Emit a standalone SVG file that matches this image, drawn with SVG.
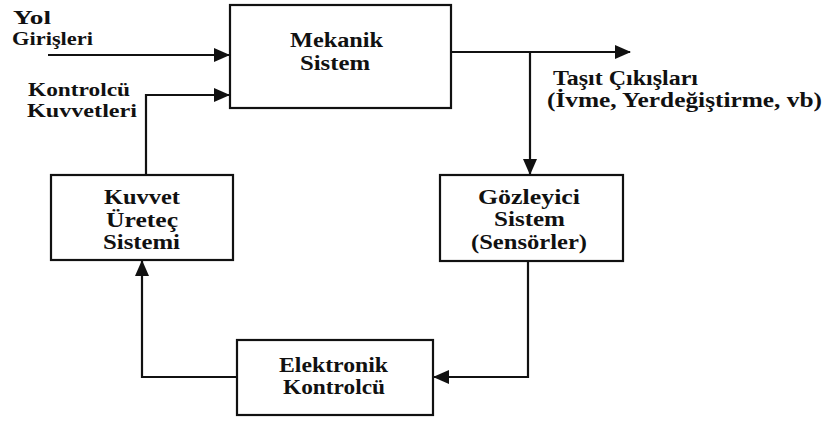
<svg xmlns="http://www.w3.org/2000/svg" width="826" height="421" viewBox="0 0 826 421">
<style>
.box{fill:#fff;stroke:#111;stroke-width:2.2}
.ln{fill:none;stroke:#111;stroke-width:2.2}
</style>
<defs>
<marker id="ah" markerUnits="userSpaceOnUse" markerWidth="16" markerHeight="14" refX="15" refY="7" orient="auto">
<path d="M0,0 L16,7 L0,14 Z" fill="#111"/>
</marker>
</defs>
<rect width="826" height="421" fill="#fff"/>
<g id="connectors">
<path class="ln" d="M48,55 H229" marker-end="url(#ah)"/>
<path class="ln" d="M146,175 V95 H229" marker-end="url(#ah)"/>
<path class="ln" d="M451,52 H630" marker-end="url(#ah)"/>
<path class="ln" d="M530,52 V174" marker-end="url(#ah)"/>
<path class="ln" d="M237,377 H142 V261" marker-end="url(#ah)"/>
<path class="ln" d="M528,261 V377 H434" marker-end="url(#ah)"/>
</g>
<g font-family="Liberation Serif, serif" font-weight="bold" font-size="20" fill="#111">
<g id="labels">
<text x="13" y="24" font-size="18" textLength="38" lengthAdjust="spacingAndGlyphs">Yol</text>
<text x="12" y="45" font-size="18" textLength="81" lengthAdjust="spacingAndGlyphs">Girişleri</text>
<text x="28" y="96" font-size="18" textLength="102" lengthAdjust="spacingAndGlyphs">Kontrolcü</text>
<text x="27" y="117" font-size="18" textLength="110" lengthAdjust="spacingAndGlyphs">Kuvvetleri</text>
<text x="553" y="85" textLength="145" lengthAdjust="spacingAndGlyphs">Taşıt Çıkışları</text>
<text x="547" y="107" textLength="275" lengthAdjust="spacingAndGlyphs">(İvme, Yerdeğiştirme, vb)</text>
</g>
<g id="mekanik">
<rect class="box" x="230" y="5" width="221" height="103"/>
<text x="290" y="47" textLength="93" lengthAdjust="spacingAndGlyphs">Mekanik</text>
<text x="300" y="70" textLength="70" lengthAdjust="spacingAndGlyphs">Sistem</text>
</g>
<g id="kuvvet">
<rect class="box" x="51" y="175" width="182" height="85"/>
<text x="104" y="204" textLength="76" lengthAdjust="spacingAndGlyphs">Kuvvet</text>
<text x="106" y="227" textLength="72" lengthAdjust="spacingAndGlyphs">Üreteç</text>
<text x="103" y="249" textLength="77" lengthAdjust="spacingAndGlyphs">Sistemi</text>
</g>
<g id="gozleyici">
<rect class="box" x="440" y="175" width="183" height="86"/>
<text x="478" y="204" textLength="102" lengthAdjust="spacingAndGlyphs">Gözleyici</text>
<text x="494" y="226" textLength="71" lengthAdjust="spacingAndGlyphs">Sistem</text>
<text x="471" y="249" textLength="116" lengthAdjust="spacingAndGlyphs">(Sensörler)</text>
</g>
<g id="elektronik">
<rect class="box" x="237" y="340" width="196" height="75"/>
<text x="279" y="372" textLength="109" lengthAdjust="spacingAndGlyphs">Elektronik</text>
<text x="283" y="394" textLength="102" lengthAdjust="spacingAndGlyphs">Kontrolcü</text>
</g>
</g>
</svg>
